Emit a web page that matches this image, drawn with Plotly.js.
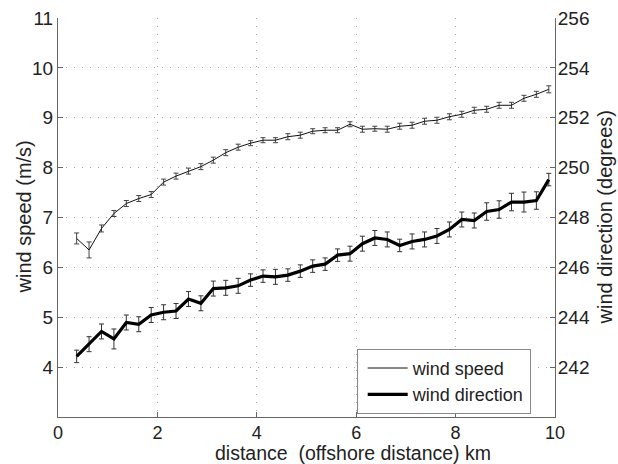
<!DOCTYPE html>
<html>
<head>
<meta charset="utf-8">
<script src="https://cdn.plot.ly/plotly-3.0.1.min.js"></script>
<style>html,body{margin:0;padding:0;background:#fff;}#chart{width:618px;height:464px;}</style>
</head>
<body>
<div id="chart"></div>
<script>
const distance = [0.375,0.625,0.875,1.125,1.375,1.625,1.875,2.125,2.375,2.625,2.875,3.125,3.375,3.625,3.875,4.125,4.375,4.625,4.875,5.125,5.375,5.625,5.875,6.125,6.375,6.625,6.875,7.125,7.375,7.625,7.875,8.125,8.375,8.625,8.875,9.125,9.375,9.625,9.875];
const windSpeed = [6.58,6.35,6.78,7.08,7.28,7.38,7.46,7.71,7.83,7.93,8.02,8.15,8.30,8.41,8.49,8.55,8.55,8.62,8.65,8.73,8.75,8.75,8.87,8.77,8.78,8.77,8.83,8.85,8.93,8.95,9.02,9.07,9.15,9.17,9.25,9.25,9.39,9.47,9.57];
const windSpeedErr = [0.11,0.16,0.07,0.06,0.06,0.06,0.06,0.06,0.06,0.06,0.06,0.06,0.06,0.06,0.05,0.05,0.05,0.06,0.06,0.05,0.05,0.05,0.05,0.06,0.05,0.06,0.06,0.06,0.06,0.06,0.06,0.06,0.06,0.06,0.06,0.06,0.06,0.06,0.07];
const windDir = [242.43,242.92,243.43,243.13,243.79,243.72,244.09,244.20,244.25,244.73,244.56,245.15,245.18,245.26,245.49,245.65,245.62,245.69,245.85,246.05,246.13,246.49,246.55,246.95,247.18,247.12,246.88,247.04,247.12,247.26,247.52,247.92,247.88,248.24,248.32,248.62,248.62,248.68,249.52];
const windDirErr = [0.25,0.3,0.3,0.4,0.3,0.3,0.3,0.3,0.3,0.3,0.3,0.3,0.3,0.3,0.25,0.25,0.3,0.25,0.25,0.25,0.25,0.25,0.3,0.3,0.3,0.3,0.25,0.3,0.3,0.3,0.3,0.3,0.3,0.35,0.35,0.35,0.4,0.35,0.25];
const xTicks = [0, 2, 4, 6, 8, 10];
const speedTicks = [4, 5, 6, 7, 8, 9, 10, 11];
const dirTicks = [242, 244, 246, 248, 250, 252, 254, 256];
const xTitle = 'distance\u00A0 (offshore distance) km';
const yTitle = 'wind speed (m/s)';
const y2Title = 'wind direction (degrees)';

const fontFam = '"Liberation Sans", Arial, Helvetica, sans-serif';
const axisCol = '#666';
const gridCol = '#aaa';
const gridDash = '1px,7px';

const traces = [
  {
    x: distance, y: windSpeed, type: 'scatter', mode: 'lines', name: 'wind speed',
    line: {color: '#111', width: 1},
    error_y: {type: 'data', array: windSpeedErr, visible: true, color: '#444', thickness: 1, width: 2.5},
    yaxis: 'y'
  },
  {
    x: distance, y: windDir, type: 'scatter', mode: 'lines', name: 'wind direction',
    line: {color: '#000', width: 3.2},
    error_y: {type: 'data', array: windDirErr, visible: true, color: '#333', thickness: 1, width: 2.5},
    yaxis: 'y2'
  }
];

const layout = {
  width: 618, height: 464,
  margin: {l: 58, r: 63, t: 18, b: 47, pad: 0},
  paper_bgcolor: '#fff', plot_bgcolor: '#fff',
  font: {family: fontFam, size: 18, color: '#222'},
  showlegend: true,
  legend: {
    x: 0.601, y: 0.008, xanchor: 'left', yanchor: 'bottom',
    bordercolor: '#888', borderwidth: 1, bgcolor: '#fff',
    font: {family: fontFam, size: 18, color: '#222'},
    tracegroupgap: 0, itemwidth: 40, indentation: 5
  },
  xaxis: {
    range: [0, 10], tickvals: xTicks,
    ticks: 'inside', ticklen: 5, tickcolor: axisCol,
    showline: true, linecolor: axisCol, linewidth: 1, mirror: false,
    showgrid: true, gridcolor: gridCol, griddash: gridDash, gridwidth: 1,
    zeroline: false, tickfont: {size: 18}, ticklabelstandoff: -1,
    automargin: false
  },
  yaxis: {
    range: [3, 11], tickvals: speedTicks,
    ticks: 'inside', ticklen: 5, tickcolor: axisCol,
    showline: true, linecolor: axisCol, linewidth: 1,
    showgrid: true, gridcolor: gridCol, griddash: gridDash, gridwidth: 1,
    zeroline: false, tickfont: {size: 19},
    automargin: false
  },
  yaxis2: {
    range: [240, 256], tickvals: dirTicks,
    overlaying: 'y', side: 'right', anchor: 'x',
    ticks: 'inside', ticklen: 5, tickcolor: axisCol,
    showline: true, linecolor: axisCol, linewidth: 1,
    showgrid: false, zeroline: false, tickfont: {size: 19},
    ticklabelstandoff: -2,
    automargin: false
  },
  annotations: [
    {text: xTitle, xref: 'paper', yref: 'paper', x: 0.5936, y: -0.0907,
     xanchor: 'center', yanchor: 'middle', showarrow: false, font: {size: 19.5}},
    {text: yTitle, xref: 'paper', yref: 'paper', x: -0.0704, y: 0.5,
     xanchor: 'center', yanchor: 'middle', textangle: -90, showarrow: false, font: {size: 20}},
    {text: y2Title, xref: 'paper', yref: 'paper', x: 1.1006, y: 0.5,
     xanchor: 'center', yanchor: 'middle', textangle: -90, showarrow: false, font: {size: 20}}
  ]
};

Plotly.newPlot('chart', traces, layout, {displayModeBar: false, staticPlot: true});
</script>
</body>
</html>
